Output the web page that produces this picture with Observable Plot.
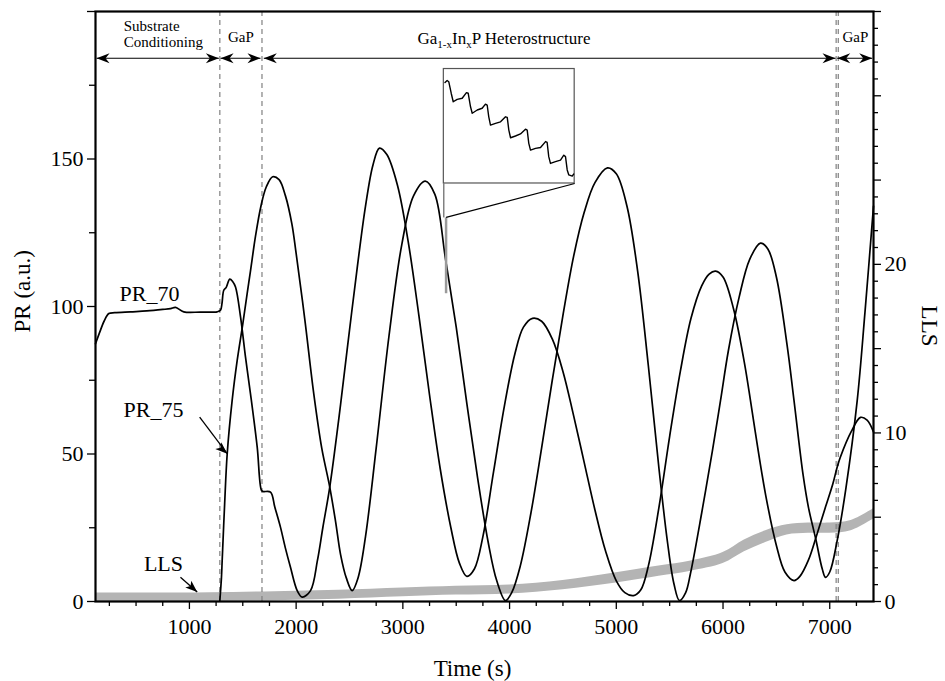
<!DOCTYPE html>
<html><head><meta charset="utf-8">
<script src="https://cdn.jsdelivr.net/npm/d3@7"></script>
<script src="https://cdn.jsdelivr.net/npm/@observablehq/plot@0.6"></script>
<style>
html,body{margin:0;padding:0;background:#fff;}
#chart{position:relative;width:945px;height:681px;}
</style></head>
<body><div id="chart"></div>
<script>
// ---------- data ----------
const pr70Time  = [120,167,200,245,300,448,600,750,823,870,947,1100,1260,1291,1305,1322,1345,1378,1405,1432,1479,1525,1572,1635,1675,1690,1760,1800,1853,1900,1947,2010,2057,2135,2200,2250,2315,2400,2480,2572,2650,2720,2781,2850,2950,3050,3150,3250,3350,3450,3530,3600,3670,3750,3850,3950,4050,4130,4215,4300,4400,4500,4600,4700,4800,4900,5000,5080,5162,5230,5300,5400,5500,5600,5700,5800,5870,5930,6000,6100,6200,6257,6300,6400,6500,6580,6665,6720,6800,6882,6960,7030,7070,7100,7200,7288,7350,7410];
const pr70Value = [87.4,92,95,97.6,97.9,98.2,98.5,99,99.3,99.7,98.2,98.1,98.2,98.7,101,105.5,106.5,109.3,108.5,106.6,96.5,83,70.5,52.4,37.7,37.3,37.1,32,25.2,18,11.6,3.7,1.5,3.7,14,25,38.8,62,86,113,134,148,153.7,151.5,141,122,97,70,45,25,13,8.5,11,22,44,66,84,93,96,95,89,78,63,47,31,17,7,3,2,4,12,32,56,78,96,107,111,112,110,99,81,68.2,58,36,19,10,7.1,8.5,14,23,32,40,45.6,49,57.5,62.4,61.5,57.5];

const pr75Time  = [1285,1300,1307,1330,1354,1400,1448,1500,1541,1572,1620,1670,1720,1780,1840,1900,1960,2000,2080,2165,2240,2315,2370,2416,2470,2525,2580,2650,2750,2870,2990,3100,3210,3300,3400,3500,3600,3700,3800,3880,3962,4020,4100,4200,4300,4400,4500,4600,4700,4800,4917,5000,5100,5200,5300,5400,5480,5540,5592,5650,5695,5800,5900,5976,6050,6150,6250,6351,6420,6500,6600,6665,6750,6800,6870,6930,6960,7000,7070,7150,7257,7330,7410];
const pr75Value = [0.3,8,13.9,33,50,68,81.8,94,104.4,112,124,134,140.5,144,143,137.5,128,118,96,70.5,52,38.8,27,16,8,3.7,8,22,52,90,121,137.5,142.5,138,116,93,67,42,20,7,0.3,3,12,30,52,75,97,117,132,142,147,145,134,112,80,45,20,6,0.3,3,9.5,30,51,68,85,103,116,121.5,119.5,110,87,68.2,43,32,21,11,8.2,10,20.7,38,68,98,134];

const llsTime = [120,600,1200,1800,2400,3000,3500,4000,4500,5000,5400,5700,6000,6200,6400,6600,6800,7000,7200,7410];
const llsLow  = [0,0,0,0.05,0.14,0.28,0.38,0.45,0.7,1.1,1.5,1.8,2.25,2.95,3.5,3.95,4.05,4.05,4.2,4.9];
const llsHigh = [0.5,0.5,0.52,0.58,0.66,0.8,0.9,0.98,1.25,1.7,2.1,2.4,2.9,3.65,4.2,4.55,4.65,4.65,4.8,5.5];

// zoomed inset (plotted in main-chart units)
const insetTime  = [3395,3415,3430,3453,3472,3509,3556,3596,3612,3634,3650,3697,3743,3774,3790,3805,3821,3868,3915,3962,3978,3993,4009,4055,4102,4149,4165,4180,4196,4243,4290,4337,4352,4367,4383,4430,4477,4508,4524,4540,4555,4587,4600];
const insetValue = [175.9,176.6,176.2,172.3,169.4,170.2,170.6,172.5,172.3,167.7,165.5,166.6,167.2,168.6,168.3,164.3,161.5,162.1,162.6,164.3,164.1,159.8,157.2,157.8,158.5,160.1,159.8,155.3,153.0,153.6,153.9,155.9,155.6,150.8,148.5,149.1,149.6,151.3,150.8,146.3,144.6,144.2,144.9];
const insetBoxTime = [3384, 4610];
const insetBoxPR   = [141.7, 180.5];
const zoomMarkTime = [3405];
const zoomMarkPR   = [104.5, 130.2];

// growth phases (top annotation)
const boundaryTimes = [1285, 1680, 7060, 7080];
const phaseStart = [130, 1292, 1697, 7070];
const phaseEnd   = [1276, 1666, 7054, 7398];
const arrowRowPR = [184.15];
const phaseText  = ["Substrate", "Conditioning", "GaP", "Ga1-xInxP Heterostructure", "GaP"];
const phaseTextTime = [385, 385, 1483, 3948, 7241];
const phaseTextPR   = [195.0, 189.6, 191.4, 190.7, 191.4];

// curve labels and pointer arrows
const curveLabel     = ["PR_70", "PR_75", "LLS"];
const curveLabelTime = [626, 663, 757];
const curveLabelPR   = [104.2, 64.8, 12.6];
const pointerFromTime = [1096, 916];
const pointerFromPR   = [62.5, 8.2];
const pointerToTime   = [1354, 1073];
const pointerToPR     = [50.1, 3.2];

// axes
const xMajorTicks = [1000,2000,3000,4000,5000,6000,7000];
const xTickLabels = ["1000","2000","3000","4000","5000","6000","7000"];
const xMinorTicks = [250,500,750,1250,1500,1750,2250,2500,2750,3250,3500,3750,4250,4500,4750,5250,5500,5750,6250,6500,6750,7250];
const prMajorTicks = [0,50,100,150,200];
const prTickLabels = ["0","50","100","150",""];
const prMinorTicks = [25,75,125,175];
const llsMajorTicks = [0,5,10,15,20,25,30,35];
const llsTickLabels = ["0","","10","","20","","",""];
const llsMinorTicks = [1,2,3,4,6,7,8,9,11,12,13,14,16,17,18,19,21,22,23,24,26,27,28,29,31,32,33,34];
const llsMax = 35, prMax = 200;
const K = prMax / llsMax; // LLS -> PR units for the shared y scale

// ---------- helpers ----------
const zip = (ts, vs) => ts.map((t, i) => ({t, v: vs[i]}));
function head(angleDeg, len, half, notch) {
  const a = angleDeg * Math.PI / 180, c = Math.cos(a), s = Math.sin(a);
  const pts = [[0,0],[-len,-half],[-len+notch,0],[-len,half]];
  return {draw(ctx) {
    pts.forEach(([x,y], i) => { const X = x*c - y*s, Y = x*s + y*c; i ? ctx.lineTo(X,Y) : ctx.moveTo(X,Y); });
    ctx.closePath();
  }};
}
const serif = "'Liberation Serif','Times New Roman',Times,serif";

const pr70 = zip(pr70Time, pr70Value);
const pr75 = zip(pr75Time, pr75Value);
const lls = llsTime.map((t, i) => ({t, lo: llsLow[i], hi: llsHigh[i]}));
const inset = zip(insetTime, insetValue);
const idx2 = [0, 1];

const chart = Plot.plot({
  width: 945, height: 681,
  marginLeft: 95, marginRight: 72, marginTop: 11, marginBottom: 80,
  x: {domain: [120, 7410]},
  y: {domain: [0, prMax]},
  style: {fontFamily: serif, fontSize: "22px", color: "black", background: "white", overflow: "visible"},
  marks: [
    // LLS band (right axis units)
    Plot.areaY(lls, {x: "t", y1: d => d.lo * K, y2: d => d.hi * K, fill: "#b4b4b4", curve: "catmull-rom"}),
    // phase boundaries
    Plot.ruleX(boundaryTimes, {stroke: "#808080", strokeWidth: 1.2, strokeDasharray: "5,4"}),
    // reflectance curves
    Plot.line(pr70, {x: "t", y: "v", curve: "catmull-rom", stroke: "black", strokeWidth: 1.7}),
    Plot.line(pr75, {x: "t", y: "v", curve: "catmull-rom", stroke: "black", strokeWidth: 1.7}),
    // inset
    Plot.rect([0], {x1: () => insetBoxTime[0], x2: () => insetBoxTime[1], y1: () => insetBoxPR[0], y2: () => insetBoxPR[1], fill: "white", stroke: "#555", strokeWidth: 1.2}),
    Plot.link([0], {x1: () => insetBoxTime[0], x2: () => insetBoxTime[0], y1: () => insetBoxPR[0], y2: () => zoomMarkPR[1], stroke: "#444", strokeWidth: 1}),
    Plot.link([0], {x1: () => zoomMarkTime[0], x2: () => zoomMarkTime[0], y1: () => zoomMarkPR[0], y2: () => zoomMarkPR[1], stroke: "#9a9a9a", strokeWidth: 2.5}),
    Plot.link([0], {x1: () => zoomMarkTime[0], y1: () => zoomMarkPR[1], x2: () => insetBoxTime[1], y2: () => insetBoxPR[0], stroke: "black", strokeWidth: 1.2}),
    Plot.line(inset, {x: "t", y: "v", stroke: "black", strokeWidth: 1.4}),
    // phase arrows
    Plot.link(phaseStart, {x1: d => d, x2: (d, i) => phaseEnd[i], y1: () => arrowRowPR[0], y2: () => arrowRowPR[0], stroke: "black", strokeWidth: 1.1}),
    Plot.dot(phaseStart, {x: d => d, y: () => arrowRowPR[0], symbol: head(180, 13, 5, 4), fill: "black", stroke: "none"}),
    Plot.dot(phaseEnd, {x: d => d, y: () => arrowRowPR[0], symbol: head(0, 13, 5, 4), fill: "black", stroke: "none"}),
    Plot.text([0, 1], {x: i => phaseTextTime[i], y: i => phaseTextPR[i], text: i => phaseText[i], textAnchor: "start", fontSize: 15}),
    Plot.text([2, 4], {x: i => phaseTextTime[i], y: i => phaseTextPR[i], text: i => phaseText[i], fontSize: 15}),
    Plot.text([3], {x: i => phaseTextTime[i], y: i => phaseTextPR[i], text: i => phaseText[i], fontSize: 17}),
    // curve labels + pointers
    Plot.text([0, 1, 2], {x: i => curveLabelTime[i], y: i => curveLabelPR[i], text: i => curveLabel[i], fontSize: 22}),
    Plot.link(idx2, {x1: i => pointerFromTime[i], y1: i => pointerFromPR[i], x2: i => pointerToTime[i], y2: i => pointerToPR[i], stroke: "black", strokeWidth: 1.3}),
    Plot.dot(idx2, {x: i => pointerToTime[i], y: i => pointerToPR[i], symbol: head(42, 12, 4.5, 3), fill: "black", stroke: "none"}),
    // frame + axes
    Plot.frame({stroke: "black", strokeWidth: 2.2}),
    Plot.axisX(xMinorTicks, {tickSize: 5, tickFormat: () => "", label: null, strokeWidth: 1.3}),
    Plot.axisX(xMajorTicks, {tickSize: 8, tickPadding: 9, tickFormat: d => xTickLabels[xMajorTicks.indexOf(d)], label: null, fontSize: 22, strokeWidth: 1.3}),
    Plot.axisY(prMinorTicks, {tickSize: 6, tickFormat: () => "", label: null, strokeWidth: 1.3}),
    Plot.axisY(prMajorTicks, {tickSize: 8, tickPadding: 4, tickFormat: d => prTickLabels[prMajorTicks.indexOf(d)], label: null, fontSize: 22, strokeWidth: 1.3}),
    Plot.axisY(llsMinorTicks.map(v => v * K), {anchor: "right", tickSize: 4, tickFormat: () => "", label: null, strokeWidth: 1.3}),
    Plot.axisY(llsMajorTicks.map(v => v * K), {anchor: "right", tickSize: 7, tickPadding: 4, tickFormat: d => llsTickLabels[Math.round(d / K) / 5], label: null, fontSize: 22, strokeWidth: 1.3}),
    // axis titles
    Plot.text(["PR (a.u.)"], {text: d => d, frameAnchor: "left", dx: -73, dy: 26, rotate: -90, fontSize: 23}),
    Plot.text(["Time (s)"], {text: d => d, frameAnchor: "bottom", dx: -12, dy: 74, fontSize: 23}),
    Plot.text(["LLS"], {text: d => d, frameAnchor: "right", dx: 56, dy: 40, rotate: 90, fontSize: 23})
  ]
});
document.getElementById("chart").appendChild(chart);

// subscripts in the heterostructure label
chart.querySelectorAll("text").forEach(el => {
  if (el.textContent === phaseText[3]) {
    while (el.firstChild) el.removeChild(el.firstChild);
    el.setAttribute("font-family", serif);
    el.style.fontFamily = serif;
    const NS = "http://www.w3.org/2000/svg";
    const parts = [["Ga", 0, 17], ["1-x", 4, 11], ["In", -4, 17], ["x", 4, 11], ["P Heterostructure", -4, 17]];
    parts.forEach(([s, dy, fs]) => {
      const t = document.createElementNS(NS, "tspan");
      t.textContent = s;
      if (dy) t.setAttribute("dy", dy);
      t.setAttribute("font-size", fs);
      t.setAttribute("font-family", serif);
      t.style.fontFamily = serif;
      el.appendChild(t);
    });
  }
});
</script>
</body></html>
